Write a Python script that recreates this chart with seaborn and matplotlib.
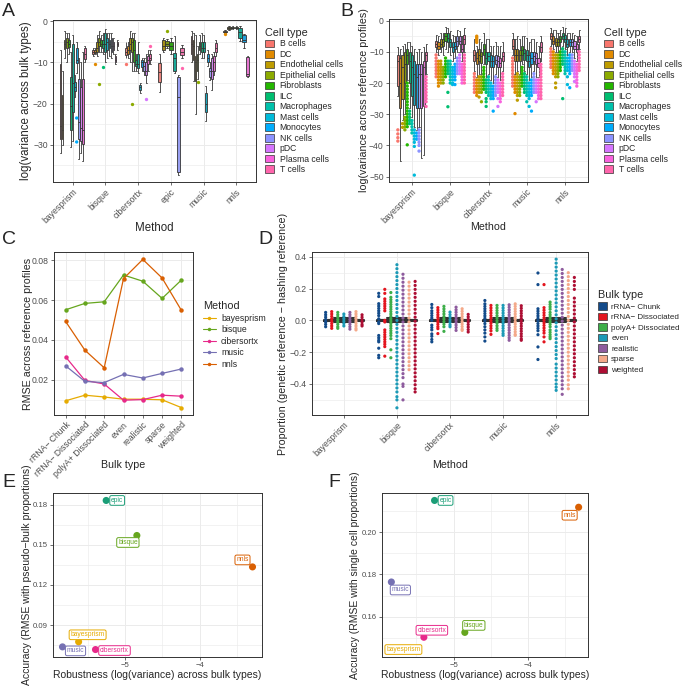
import matplotlib
matplotlib.use("Agg")
import matplotlib.pyplot as plt
from matplotlib.patches import Patch
from matplotlib.lines import Line2D
from matplotlib.ticker import MultipleLocator
import numpy as np
import pandas as pd
import seaborn as sns

# ---------------- data ----------------
cell_types = ["B cells", "DC", "Endothelial cells", "Epithelial cells", "Fibroblasts", "ILC",
              "Macrophages", "Mast cells", "Monocytes", "NK cells", "pDC", "Plasma cells", "T cells"]
cell_colors = ["#F8766D", "#E18A00", "#BE9C00", "#8CAB00", "#24B700", "#00BE70", "#00C1AB",
               "#00BBDA", "#00ACFC", "#8B93FF", "#D575FE", "#F962DD", "#FF65AC"]

# Panel A: (lower whisker, Q1, median, Q3, upper whisker) per cell type, None = not estimated
a_methods = ["bayesprism", "bisque", "cibersortx", "epic", "music", "nnls"]
a_bayesprism = [(-32.0, -28.5, -25.5, -10.5, -7.0), (-30.0, -28.5, -26.5, -18.0, -12.0),
                (-9.0, -6.8, -5.5, -4.5, -2.5), (-10.0, -6.5, -5.2, -4.2, -3.0),
                (-8.0, -6.2, -5.5, -4.5, -3.0), (-30.5, -26.5, -20.5, -13.5, -7.5),
                (-29.0, -22.0, -15.0, -5.5, -3.5), (-18.5, -17.0, -16.0, -14.8, -13.0),
                (-12.5, -10.2, -9.5, -6.5, -5.0), (-33.5, -28.5, -24.5, -14.0, -9.0),
                (-32.0, -29.0, -26.0, -16.0, -10.0), (-34.0, -29.8, -26.5, -14.0, -7.5),
                (-10.0, -9.2, -8.0, -6.5, -6.0)]
a_bisque = [(-8.5, -8.0, -7.5, -7.0, -6.5), (-8.0, -7.8, -7.5, -7.0, -6.5),
            (-8.5, -7.5, -6.5, -5.0, -3.5), (-7.5, -6.0, -5.0, -4.0, -2.5),
            (-7.5, -6.0, -5.5, -4.5, -3.5), (-8.0, -6.5, -5.5, -4.5, -3.0),
            (-10.0, -7.5, -5.5, -3.0, -2.0), (-9.0, -7.0, -5.0, -4.0, -3.0),
            (-8.5, -6.5, -5.5, -4.5, -3.0), (-9.0, -7.5, -6.0, -4.0, -3.0),
            (-8.0, -7.0, -6.0, -5.0, -4.0), (-10.5, -10.0, -9.5, -8.5, -8.0),
            (-7.0, -6.0, -5.5, -5.0, -4.5)]
a_cibersortx = [(-9.0, -8.2, -7.5, -6.5, -5.0), (-9.0, -8.0, -7.0, -6.0, -5.0),
                (-10.0, -7.0, -5.5, -4.0, -2.5), (-12.0, -7.5, -5.0, -4.0, -3.0),
                (-12.0, -10.0, -7.0, -4.5, -3.0), (-12.0, -11.0, -10.5, -9.5, -8.0),
                (-12.5, -11.5, -10.5, -8.0, -5.0), (-17.5, -16.7, -16.0, -15.5, -15.0),
                (-12.0, -11.2, -10.0, -9.5, -9.0), (-13.0, -12.0, -11.0, -10.0, -9.0),
                (-15.0, -13.0, -12.0, -10.0, -8.0), (-12.0, -10.5, -9.5, -8.5, -7.0),
                (-10.5, -9.5, -9.0, -8.0, -7.0)]
a_epic = [(-17.2, -14.8, -12.3, -10.2, -8.1), None, (-7.5, -7.0, -6.0, -4.6, -4.0),
          (-6.5, -6.0, -5.5, -4.8, -4.3), (-8.0, -7.0, -6.0, -5.2, -4.0), None,
          (-12.6, -12.0, -9.0, -7.7, -3.7), None, None, (-37.3, -36.5, -18.4, -13.5, -13.0),
          None, None, (-9.0, -8.2, -7.5, -6.5, -5.8)]
a_music = [(-10.0, -8.1, -5.5, -3.7, -2.5), (-14.5, -9.5, -6.0, -4.5, -3.0),
           (-22.5, -14.5, -10.0, -8.5, -3.5), (-14.0, -12.0, -9.5, -8.0, -6.0),
           (-8.0, -7.0, -6.0, -5.0, -3.5), (-9.0, -7.5, -6.5, -5.0, -3.0),
           (-9.0, -7.5, -6.5, -5.0, -3.5), (-24.2, -22.0, -20.0, -17.4, -15.7),
           (-11.0, -10.0, -9.0, -8.0, -7.0), (-14.3, -13.5, -12.0, -11.4, -10.0),
           (-16.8, -14.0, -12.0, -9.0, -8.0), (-13.0, -12.0, -10.0, -8.5, -7.5),
           (-8.5, -7.6, -6.5, -5.3, -4.5)]
a_nnls = [None, (-2.9, -2.7, -2.6, -2.4, -2.2), (-2.1, -1.9, -1.7, -1.5, -1.3),
          (-2.0, -1.8, -1.6, -1.5, -1.3), (-1.9, -1.7, -1.6, -1.5, -1.3), None,
          (-4.8, -4.0, -2.6, -1.8, -1.3), None, (-6.5, -5.0, -4.5, -3.5, -3.2), None, None,
          (-13.5, -13.2, -12.8, -8.7, -8.5), None]
a_outliers_bayesprism = {"Monocytes": [-23.5, -29.3]}
a_outliers_bisque = {"DC": [-10.5], "Epithelial cells": [-15.2], "ILC": [-11.2]}
a_outliers_cibersortx = {"B cells": [-10.5], "Epithelial cells": [-20.0], "pDC": [-18.8], "T cells": [-6.0]}
a_outliers_epic = {"Epithelial cells": [-2.4], "T cells": [-11.3]}
a_outliers_music = {"Epithelial cells": [-14.8]}
a_outliers_nnls = {"DC": [-3.2]}

# Panel B: box summaries and outliers per cell type
b_methods = ["bayesprism", "bisque", "cibersortx", "music", "nnls"]
b_bayesprism = [(-24, -21, -13, -11, -8.5), (-45, -28, -20, -12, -9), (-32, -25, -15, -11, -8),
                (-30, -20, -14, -10, -7.5), (-19, -14, -11, -9, -7), (-28, -20, -13, -10, -7),
                (-31, -24, -15, -11, -8), (-34, -27, -17, -13, -9), (-35, -28, -18, -14, -10),
                (-34, -28, -17, -14, -9), (-44, -28, -17, -14, -10), (-43, -27.5, -15, -13, -8.5),
                (-17, -13, -11, -10, -7.5)]
b_bayesprism_out = [[-35, -36.3, -37.5, -38.6], [], [-33, -34.2], [-31, -32, -33, -34, -35],
                    [-20, -21, -22, -23, -24, -25, -26, -27, -28, -29, -30, -31, -32, -33, -34, -39.8],
                    [-29, -30, -31, -32, -33], [-32, -33, -34, -35, -36],
                    [-35, -36, -37, -38, -39, -40.3, -49.5], [-36, -37, -38],
                    [-35, -36, -37, -38, -39, -40, -41.8], [], [],
                    [-18, -19, -20, -21, -22, -23, -24, -25, -26, -27.5]]
b_bisque = [(-10, -8.5, -7.5, -6.5, -4.5), (-11, -9, -8, -7, -5), (-10, -8.5, -7.5, -6, -4),
            (-11, -8, -7, -6, -4), (-9, -6.5, -5, -4, -2), (-10, -7, -5.5, -4, -2.5),
            (-11, -8.5, -7, -6, -3.5), (-13, -10, -8.5, -7, -4.5), (-12, -9, -8, -7, -5),
            (-10, -8, -6.5, -5, -3), (-10, -7.5, -6.5, -5, -3.5), (-13, -10, -9, -7.5, -5),
            (-10, -7.5, -6, -4.5, -2.5)]
b_bisque_out = [[-11, -12, -13, -14, -15, -16, -17, -18], [-13, -14, -15, -16, -17, -18, -19, -20, -21],
                [-13, -14, -15, -16, -17, -18, -19, -20], [-15, -16, -17, -18, -19, -20],
                [-12, -13, -14, -15, -16, -17, -18], [-13, -14, -15, -16, -17, -23, -27.6],
                [-13, -14, -15, -16, -17, -18, -19, -20], [-15, -16, -17, -18, -19, -20, -20.5],
                [-14, -15, -16, -17, -18, -19, -20.5], [-12, -13, -14, -15, -16, -17],
                [-11, -12, -13, -14, -15, -16, -17], [-14, -15, -16, -17, -18, -19, -20],
                [-11, -12, -13, -14, -15, -16, -17, -18, -19, -20]]
b_cibersortx = [(-16, -13, -11, -9.5, -6), (-18, -14, -12, -10, -8), (-17, -13, -11, -9, -6),
                (-17, -13.5, -11.5, -10, -7), (-14, -11, -9, -7.5, -4), (-18, -14, -12, -10, -6),
                (-17, -13, -11.5, -10, -6), (-19, -15, -13, -11, -8), (-20, -15, -13, -11.5, -8),
                (-17, -14, -12.5, -11, -7), (-18, -15, -13, -11.5, -8), (-19, -15, -13.5, -12, -8),
                (-16, -13, -11.5, -10, -7)]
b_cibersortx_out = [[-17, -18, -19, -20, -21, -22, -23],
                    [-5, -5.5, -6, -6.5, -7, -19, -20, -21, -22, -23, -24],
                    [-18, -19, -20, -21, -22, -23, -24.5], [-18, -19, -20, -21, -22, -23, -26],
                    [-15, -16, -17, -18, -19, -20, -21, -22], [-19, -20, -21, -22, -23, -25, -26, -27.5],
                    [-18, -19, -20, -21, -22, -23, -24], [-20, -21, -22, -23, -24, -25],
                    [-21, -22, -23, -24, -25, -29], [-18, -19, -20, -21, -22, -23, -24],
                    [-19, -20, -21, -22, -23, -25, -27.5], [-20, -21, -22, -23, -24, -25, -26],
                    [-17, -18, -19, -20, -21, -22, -23, -24]]
b_music = [(-11, -9, -8, -6, -4), (-17, -13, -11, -9, -6), (-16, -13, -11, -9, -5),
           (-17, -13, -11, -9.5, -6), (-14, -11, -9.5, -8, -5), (-16, -12.5, -10.5, -9, -5),
           (-17, -13, -11, -9.5, -5.5), (-19, -15, -13, -11, -7), (-18, -14, -12, -10, -6),
           (-16, -13, -11.5, -10, -6), (-18, -14, -12, -10.5, -7), (-18, -15, -13.5, -12, -8),
           (-13, -10, -8.5, -7, -5)]
b_music_out = [[-12, -13, -14, -15, -16, -17, -18, -19, -20, -21], [-18, -19, -20, -21, -22, -23, -29.8],
               [-17, -18, -19, -20, -21, -22, -23, -24, -25.5], [-18, -19, -20, -21, -22, -23, -24],
               [-15, -16, -17, -18, -19, -20, -21], [-17, -18, -19, -20, -21, -22, -23],
               [-18, -19, -20, -21, -22, -23, -24, -26], [-20, -21, -22, -23, -24, -25, -27.5],
               [-19, -20, -21, -22, -23, -24, -29], [-17, -18, -19, -20, -21, -22, -23],
               [-19, -20, -21, -22, -23, -26], [-19, -20, -21, -22, -23, -24, -25],
               [-14, -15, -16, -17, -18, -19, -20, -21, -22, -23, -24, -25]]
b_nnls = [(-8, -6, -5, -4, -2.5), (-9, -7.5, -6.5, -5, -3), (-10, -8, -7, -5.5, -3),
          (-10, -8, -7, -6, -4), (-9, -7, -6, -5, -3), (-8, -6, -5, -4, -2),
          (-9, -7, -6, -4.5, -2.5), (-11, -8.5, -7.5, -6, -4), (-10, -8, -7, -6, -4),
          (-10, -8, -7, -6, -4), (-12, -9, -8, -6.5, -4.5), (-13, -10, -9, -7.5, -5),
          (-9, -7, -6, -5, -3)]
b_nnls_out = [[-9, -10, -11, -12, -13, -14, -15], [-10, -11, -12, -13, -14, -15, -16, -17],
              [-11, -12, -13, -14, -15, -16, -17, -18, -20, -21.5], [-11, -12, -13, -14, -15, -16, -17, -18],
              [-10, -11, -12, -13, -14, -15, -16], [-9, -10, -11, -12, -13, -14, -25],
              [-10, -11, -12, -13, -14, -15, -16, -17], [-12, -13, -14, -15, -16, -18, -20.5],
              [-11, -12, -13, -14, -15, -16, -17, -21.5], [-11, -12, -13, -14, -15, -16],
              [-13, -14, -15, -16, -17, -18, -19.5], [-14, -15, -16, -17, -18, -19, -20, -21],
              [-10, -11, -12, -13, -14, -15, -16]]

# Panel C: RMSE across reference profiles
bulk_types = ["rRNA\u2212 Chunk", "rRNA\u2212 Dissociated", "polyA+ Dissociated",
              "even", "realistic", "sparse", "weighted"]
c_methods = ["bayesprism", "bisque", "cibersortx", "music", "nnls"]
c_bayesprism = [0.0096, 0.0124, 0.0115, 0.0104, 0.0104, 0.0101, 0.0062]
c_bisque = [0.0551, 0.0583, 0.0591, 0.0725, 0.0694, 0.0608, 0.0700]
c_cibersortx = [0.0316, 0.0198, 0.0180, 0.0099, 0.0102, 0.0124, 0.0119]
c_music = [0.0271, 0.0193, 0.0187, 0.0228, 0.0210, 0.0233, 0.0255]
c_nnls = [0.0493, 0.0349, 0.0261, 0.0707, 0.0803, 0.0710, 0.0548]

# Panel D: proportion differences, one list per bulk type (same order as bulk_types)
bulk_colors = ["#134B8A", "#E3151E", "#3DAE49", "#1C9AB6", "#8E5C9E", "#F4A98A", "#AD0E33"]
d_methods = ["bayesprism", "bisque", "cibersortx", "music", "nnls"]
d_bayesprism = [
    [0.05, 0.035, 0.02, 0.005, -0.01, -0.025, -0.04],
    [0.055, 0.04, 0.025, 0.01, -0.005, -0.02, -0.035, -0.05],
    [0.05, 0.035, 0.02, 0.005, -0.01, -0.025, -0.04, -0.05],
    [0.04, 0.025, 0.01, -0.005, -0.02, -0.035],
    [0.05, 0.035, 0.02, 0.005, -0.01, -0.025, -0.04, -0.055],
    [0.055, 0.04, 0.025, 0.01, -0.005, -0.02, -0.035, -0.05, -0.06],
    [0.035, 0.02, 0.005, -0.01, -0.025, -0.035],
]
d_bisque = [
    [0.17, 0.15, 0.105, 0.09, 0.075, 0.06, 0.045, 0.03, 0.01, -0.01, -0.02, -0.095, -0.11, -0.125,
     -0.135, -0.175, -0.22, -0.235],
    [0.195, 0.17, 0.135, 0.12, 0.105, 0.09, 0.075, 0.06, 0.0, -0.01, -0.06, -0.075, -0.09, -0.105,
     -0.12, -0.135, -0.15, -0.165, -0.225],
    [0.175, 0.145, 0.13, 0.115, 0.1, 0.085, 0.07, 0.055, 0.04, 0.025, 0.01, -0.005, -0.02, -0.035,
     -0.05, -0.065, -0.08, -0.095, -0.115, -0.185, -0.235],
    [0.35, 0.325, 0.3, 0.275, 0.25, 0.225, 0.2, 0.175, 0.15, 0.125, 0.1, 0.075, 0.05, 0.025, 0.0,
     -0.025, -0.05, -0.075, -0.1, -0.125, -0.15, -0.175, -0.2, -0.225, -0.25, -0.275, -0.3, -0.325,
     -0.35, -0.375, -0.4, -0.425, -0.45, -0.48, -0.5, -0.55],
    [0.29, 0.265, 0.24, 0.215, 0.19, 0.165, 0.14, 0.115, 0.09, 0.065, 0.04, 0.015, -0.01, -0.035,
     -0.06, -0.085, -0.11, -0.135, -0.16, -0.185, -0.21, -0.235, -0.26, -0.285, -0.31, -0.335, -0.36,
     -0.4, -0.415, -0.5],
    [0.24, 0.215, 0.19, 0.165, 0.14, 0.115, 0.09, 0.065, 0.04, 0.015, -0.01, -0.035, -0.06, -0.085,
     -0.11, -0.135, -0.16, -0.185, -0.21, -0.235, -0.26, -0.285, -0.31],
    [0.245, 0.22, 0.195, 0.17, 0.145, 0.12, 0.095, 0.07, 0.045, 0.02, -0.005, -0.03, -0.055, -0.08,
     -0.105, -0.13, -0.155, -0.18, -0.205, -0.23, -0.255, -0.28, -0.305, -0.33, -0.355, -0.38, -0.405,
     -0.43, -0.45],
]
d_cibersortx = [
    [0.1, 0.08, 0.06, 0.045, 0.03, 0.015, 0.0, -0.03, -0.045, -0.06, -0.085, -0.1, -0.12, -0.135],
    [0.08, 0.065, 0.05, 0.035, 0.02, 0.005, -0.01, -0.025, -0.04, -0.052, -0.083],
    [0.088, 0.072, 0.056, 0.04, 0.024, 0.008, -0.008, -0.024, -0.04, -0.069],
    [0.052, 0.036, 0.02, 0.004, -0.012, -0.028, -0.04],
    [0.083, 0.067, 0.051, 0.035, 0.019, 0.003, -0.013, -0.029, -0.045, -0.063],
    [0.073, 0.057, 0.041, 0.025, 0.009, -0.007, -0.023, -0.039, -0.055, -0.063],
    [0.0375, 0.022, 0.006, -0.01, -0.026, -0.042, -0.058, -0.073],
]
d_music = [
    [0.125, 0.104, 0.088, 0.073, 0.058, 0.043, 0.028, 0.013, -0.002, -0.02, -0.04, -0.06, -0.08,
     -0.104, -0.13],
    [0.094, 0.078, 0.062, 0.046, 0.03, 0.014, -0.002, -0.018, -0.034, -0.05, -0.066, -0.088],
    [0.094, 0.078, 0.062, 0.046, 0.03, 0.014, -0.002, -0.018, -0.034, -0.05, -0.063],
    [0.094, 0.078, 0.062, 0.046, 0.03, 0.014, -0.002, -0.018, -0.034, -0.05, -0.066, -0.082, -0.094],
    [0.098, 0.082, 0.066, 0.05, 0.034, 0.018, 0.002, -0.014, -0.03, -0.046, -0.062, -0.078, -0.094,
     -0.11, -0.125],
    [0.104, 0.088, 0.072, 0.056, 0.04, 0.024, 0.008, -0.008, -0.024, -0.04, -0.056, -0.072, -0.088,
     -0.094],
    [0.092, 0.076, 0.06, 0.044, 0.028, 0.012, -0.004, -0.02, -0.036, -0.052, -0.068, -0.084, -0.1,
     -0.116, -0.125],
]
d_nnls = [
    [0.298, 0.225, 0.073, 0.058, 0.043, 0.028, 0.013, -0.002, -0.02, -0.035, -0.05, -0.065, -0.09,
     -0.167, -0.246],
    [0.225, 0.08, 0.064, 0.048, 0.032, 0.016, 0.0, -0.016, -0.032, -0.048, -0.064, -0.08, -0.104,
     -0.135],
    [0.115, 0.1, 0.085, 0.07, 0.05, 0.035, 0.02, 0.005, -0.01, -0.025, -0.04, -0.06, -0.075, -0.09,
     -0.104, -0.115],
    [0.385, 0.36, 0.335, 0.31, 0.285, 0.26, 0.235, 0.21, 0.185, 0.16, 0.135, 0.11, 0.085, 0.06,
     0.035, 0.01, -0.015, -0.04, -0.065, -0.09, -0.115, -0.14, -0.165, -0.19, -0.215, -0.24, -0.275,
     -0.3, -0.325, -0.35, -0.375, -0.4, -0.42, -0.44],
    [0.32, 0.295, 0.27, 0.245, 0.22, 0.195, 0.17, 0.145, 0.12, 0.095, 0.07, 0.045, 0.02, -0.005,
     -0.03, -0.055, -0.08, -0.105, -0.13, -0.155, -0.18, -0.205, -0.23, -0.255, -0.28, -0.305, -0.33,
     -0.355, -0.38, -0.405, -0.43, -0.465],
    [0.3, 0.275, 0.25, 0.225, 0.2, 0.175, 0.15, 0.125, 0.1, 0.075, 0.05, 0.025, 0.0, -0.025, -0.05,
     -0.075, -0.1, -0.125, -0.15, -0.175, -0.2, -0.225, -0.25, -0.275, -0.3, -0.325, -0.35, -0.375,
     -0.405, -0.43],
    [0.27, 0.245, 0.22, 0.195, 0.14, 0.115, 0.09, 0.065, 0.04, 0.015, -0.01, -0.035, -0.06, -0.085,
     -0.11, -0.135, -0.16, -0.185, -0.21, -0.235, -0.26, -0.285, -0.31, -0.335, -0.355],
]
# tiny summary drawn as the black centre bar of each method
d_centre = [-0.012, -0.004, 0.0, 0.004, 0.012]

# Panels E and F: robustness vs accuracy
ef_methods = ["bayesprism", "bisque", "cibersortx", "epic", "music", "nnls"]
e_robustness = [-5.622, -4.842, -5.396, -5.253, -5.838, -3.293]
e_accuracy = [0.0775, 0.1570, 0.0717, 0.1832, 0.0737, 0.1335]
f_robustness = [-5.622, -4.848, -5.400, -5.256, -5.838, -3.314]
f_accuracy = [0.1445, 0.1526, 0.1503, 0.2149, 0.1764, 0.2117]
# label offsets from the points (pixels, right/up)
e_label_offsets = [(9, 7), (-9, -7), (19, -1), (11, 0), (13, -4), (-10, 7)]
f_label_offsets = [(-4, 0), (9, 7), (8, 7), (11, 0), (9, -8), (-9, -8)]

method_colors = {"bayesprism": "#E6AB02", "bisque": "#66A61E", "cibersortx": "#E7298A",
                 "epic": "#1B9E77", "music": "#7570B3", "nnls": "#D95F02"}

# ---------------- style ----------------
sns.set_theme(style="white")
plt.rcParams["font.family"] = ["Liberation Sans", "DejaVu Sans"]

W, H = 685, 689
fig = plt.figure(figsize=(W / 100, H / 100), dpi=100)
cell_pal = dict(zip(cell_types, cell_colors))
bulk_pal = dict(zip(bulk_types, bulk_colors))
edge = "#333333"


def add_ax(l, t, r, b):
    return fig.add_axes([l / W, 1 - b / H, (r - l) / W, (b - t) / H])


def style_axes(ax, tick_size=6.2):
    for s in ax.spines.values():
        s.set_color(edge)
        s.set_linewidth(0.7)
    ax.set_axisbelow(True)
    ax.grid(True, which="major", color="#EBEBEB", linewidth=0.7)
    ax.grid(True, which="minor", color="#EBEBEB", linewidth=0.45)
    ax.tick_params(which="major", length=2.5, width=0.5, color=edge, labelsize=tick_size,
                   labelcolor="#4D4D4D", pad=1.3, bottom=True, left=True)
    ax.tick_params(which="minor", length=0)


def rotate_xlabels(ax):
    for lab in ax.get_xticklabels():
        lab.set_rotation(45)
        lab.set_ha("right")
        lab.set_rotation_mode("anchor")


def box_frame(method, boxes):
    rows = []
    for cell, stats in zip(cell_types, boxes):
        if stats is None:
            continue
        for v in stats:
            rows.append((method, cell, v))
    return pd.DataFrame(rows, columns=["method", "cell", "value"])


def draw_boxes(ax, methods, boxes_list, outliers_list):
    for m, boxes, outs in zip(methods, boxes_list, outliers_list):
        present = [c for c, s in zip(cell_types, boxes) if s is not None]
        df = box_frame(m, boxes)
        sns.boxplot(data=df, x="method", y="value", hue="cell", order=methods, hue_order=present,
                    palette=cell_pal, width=0.8, gap=0.1, whis=(0, 100), showfliers=False,
                    linewidth=0.6, linecolor=edge, legend=False, ax=ax)
        orows = [(m, c, v) for c, vals in outs.items() for v in vals]
        if orows:
            odf = pd.DataFrame(orows, columns=["method", "cell", "value"])
            sns.stripplot(data=odf, x="method", y="value", hue="cell", order=methods,
                          hue_order=present, palette=cell_pal, dodge=True, jitter=False,
                          size=2.4, linewidth=0, legend=False, ax=ax, zorder=3)


def cell_legend(x, y):
    handles = [Patch(facecolor=c, edgecolor=edge, linewidth=0.5) for c in cell_colors]
    leg = fig.legend(handles, cell_types, title="Cell type", loc="upper left",
                     bbox_to_anchor=(x / W, 1 - y / H), frameon=False, fontsize=6.2,
                     title_fontsize=7.8, handlelength=1.1, handleheight=1.0, handletextpad=0.6,
                     labelspacing=0.17, borderpad=0, borderaxespad=0)
    leg._legend_box.align = "left"


# ---------------- A ----------------
ax = add_ax(53, 20, 256, 182)
draw_boxes(ax, a_methods, [a_bayesprism, a_bisque, a_cibersortx, a_epic, a_music, a_nnls],
           [a_outliers_bayesprism, a_outliers_bisque, a_outliers_cibersortx, a_outliers_epic,
            a_outliers_music, a_outliers_nnls])
ax.set_xlim(-0.6, len(a_methods) - 0.4)
ax.set_ylim(-39.0, 0.25)
ax.yaxis.set_major_locator(MultipleLocator(10))
ax.yaxis.set_minor_locator(MultipleLocator(5))
style_axes(ax)
rotate_xlabels(ax)
ax.set_xlabel("Method", fontsize=8.3)
ax.set_ylabel("log(variance across bulk types)", fontsize=8.3)
ax.xaxis.set_label_coords(0.5, -0.245)
ax.yaxis.set_label_coords(-0.103, 0.5)
cell_legend(265, 28)

# ---------------- B ----------------
ax = add_ax(389, 19, 588, 182)
b_out_dicts = [dict(zip(cell_types, o)) for o in
               [b_bayesprism_out, b_bisque_out, b_cibersortx_out, b_music_out, b_nnls_out]]
draw_boxes(ax, b_methods, [b_bayesprism, b_bisque, b_cibersortx, b_music, b_nnls], b_out_dicts)
ax.set_xlim(-0.6, len(b_methods) - 0.4)
ax.set_ylim(-51.7, 0.5)
ax.yaxis.set_major_locator(MultipleLocator(10))
ax.yaxis.set_minor_locator(MultipleLocator(5))
style_axes(ax)
rotate_xlabels(ax)
ax.set_xlabel("Method", fontsize=7.7)
ax.set_ylabel("log(variance across reference profiles)", fontsize=7.7)
ax.xaxis.set_label_coords(0.5, -0.245)
ax.yaxis.set_label_coords(-0.1, 0.5)
cell_legend(604, 28)

# ---------------- C ----------------
ax = add_ax(54, 252, 193, 415)
c_df = pd.DataFrame({
    "bulk": bulk_types * len(c_methods),
    "method": np.repeat(c_methods, len(bulk_types)),
    "rmse": c_bayesprism + c_bisque + c_cibersortx + c_music + c_nnls,
})
sns.lineplot(data=c_df, x="bulk", y="rmse", hue="method", palette=method_colors, sort=False,
             marker="o", markersize=3.2, markeredgewidth=0, linewidth=0.9, errorbar=None,
             legend=False, ax=ax)
ax.set_xlim(-0.6, len(bulk_types) - 0.4)
ax.yaxis.set_major_locator(MultipleLocator(0.02))
ax.yaxis.set_minor_locator(MultipleLocator(0.01))
style_axes(ax)
rotate_xlabels(ax)
ax.set_xlabel("Bulk type", fontsize=7.7)
ax.set_ylabel("RMSE across reference profiles", fontsize=7.7)
ax.xaxis.set_label_coords(0.5, -0.276)
ax.yaxis.set_label_coords(-0.151, 0.5)
handles = [Line2D([0], [0], color=method_colors[m], marker="o", markersize=2.5, lw=0.8,
                  markeredgewidth=0) for m in c_methods]
leg = fig.legend(handles, c_methods, title="Method", loc="upper left",
                 bbox_to_anchor=(203 / W, 1 - 301 / H), frameon=False, fontsize=6.2,
                 title_fontsize=7.8, handlelength=1.5, handletextpad=0.6, labelspacing=0.3,
                 borderpad=0, borderaxespad=0)
leg._legend_box.align = "left"

# ---------------- D ----------------
ax = add_ax(312, 252, 588, 415)
d_rows = []
for m, cols in zip(d_methods, [d_bayesprism, d_bisque, d_cibersortx, d_music, d_nnls]):
    for b, vals in zip(bulk_types, cols):
        for v in vals:
            d_rows.append((m, b, v))
d_df = pd.DataFrame(d_rows, columns=["method", "bulk", "value"])
sns.stripplot(data=d_df, x="method", y="value", hue="bulk", order=d_methods,
              hue_order=bulk_types, palette=bulk_pal, dodge=True, jitter=False, size=2.3,
              linewidth=0, legend=False, ax=ax)
centre_df = pd.DataFrame({"method": np.repeat(d_methods, len(d_centre)),
                          "value": d_centre * len(d_methods)})
sns.boxplot(data=centre_df, x="method", y="value", order=d_methods, color=edge, fill=False,
            width=0.75, whis=(0, 100), showfliers=False, linewidth=1.5, ax=ax)
ax.set_xlim(-0.6, len(d_methods) - 0.4)
ax.set_ylim(-0.595, 0.43)
ax.yaxis.set_major_locator(MultipleLocator(0.2))
ax.yaxis.set_minor_locator(MultipleLocator(0.1))
style_axes(ax)
rotate_xlabels(ax)
ax.set_xlabel("Method", fontsize=7.7)
ax.set_ylabel("Proportion (genetic reference \u2212 hashing reference)", fontsize=7.7)
ax.xaxis.set_label_coords(0.5, -0.276)
ax.yaxis.set_label_coords(-0.087, 0.5)
handles = [Patch(facecolor=c, edgecolor=edge, linewidth=0.5) for c in bulk_colors]
leg = fig.legend(handles, bulk_types, title="Bulk type", loc="upper left",
                 bbox_to_anchor=(598 / W, 1 - 290 / H), frameon=False, fontsize=5.8,
                 title_fontsize=7.8, handlelength=1.1, handleheight=1.05, handletextpad=0.55,
                 labelspacing=0.26, borderpad=0, borderaxespad=0)
leg._legend_box.align = "left"


# ---------------- E / F ----------------
def scatter_panel(rect, xs, ys, offsets, ylabel, y_major, y_minor):
    ax = add_ax(*rect)
    sns.scatterplot(x=xs, y=ys, hue=ef_methods, palette=method_colors, s=26, linewidth=0,
                    legend=False, ax=ax)
    for m, x, y, (dx, dy) in zip(ef_methods, xs, ys, offsets):
        col = method_colors[m]
        ax.annotate(m, xy=(x, y), xytext=(dx * 0.72, dy * 0.72), textcoords="offset points",
                    ha="center", va="center", fontsize=4.8, color=col, zorder=4,
                    bbox=dict(boxstyle="round,pad=0.2,rounding_size=0.25", fc="white", ec=col,
                              lw=0.7))
    ax.margins(0.05)
    ax.xaxis.set_major_locator(MultipleLocator(1))
    ax.xaxis.set_minor_locator(MultipleLocator(0.5))
    ax.yaxis.set_major_locator(MultipleLocator(y_major))
    ax.yaxis.set_minor_locator(MultipleLocator(y_minor))
    style_axes(ax, tick_size=5.6)
    ax.set_xlabel("Robustness (log(variance) across bulk types)", fontsize=7.5)
    ax.set_ylabel(ylabel, fontsize=7.5)
    ax.xaxis.set_label_coords(0.5, -0.078)
    return ax


ax = scatter_panel((53, 493, 262, 657), e_robustness, e_accuracy, e_label_offsets,
                   "Accuracy (RMSE with pseudo\u2212bulk proportions)", 0.03, 0.015)
ax.yaxis.set_label_coords(-0.10, 0.5)
ax = scatter_panel((382, 493, 588, 657), f_robustness, f_accuracy, f_label_offsets,
                   "Accuracy (RMSE with single cell proportions)", 0.02, 0.01)
ax.yaxis.set_label_coords(-0.107, 0.5)

# panel letters
for letter, x, y in [("A", 2, 3), ("B", 340, 3), ("C", 2, 231), ("D", 258, 231),
                     ("E", 2, 474), ("F", 328, 474)]:
    fig.text(x / W, 1 - y / H, letter, fontsize=14, va="top", ha="left")

fig.savefig("out.png", dpi=100)
